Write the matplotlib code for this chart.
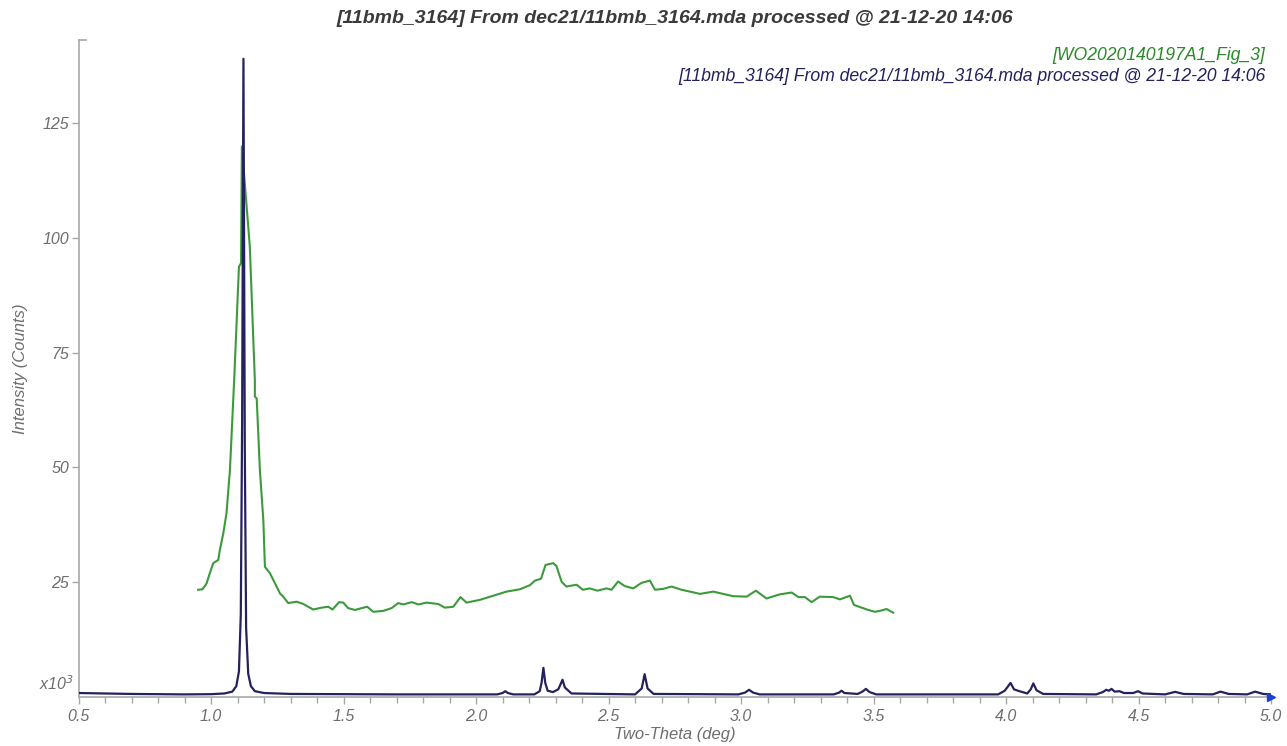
import numpy as np
import matplotlib
matplotlib.use("Agg")
import matplotlib.pyplot as plt
from matplotlib.ticker import MultipleLocator

# ─── Data ────────────────────────────────────────────────────────────
TITLE = "[11bmb_3164] From dec21/11bmb_3164.mda processed @ 21-12-20 14:06"
GREEN_NAME = "[WO2020140197A1_Fig_3]"
BLUE_NAME = TITLE

# digitized pattern (x: two-theta deg, y: counts x1000)
green_x = [0.951, 0.967, 0.975, 0.983, 0.995, 1.008, 1.027, 1.033, 1.046, 1.058,
           1.071, 1.087, 1.105, 1.113, 1.116, 1.146, 1.165, 1.165, 1.172, 1.184,
           1.197, 1.203, 1.222, 1.241, 1.260, 1.272, 1.291, 1.323, 1.348, 1.385,
           1.417, 1.442, 1.458, 1.483, 1.499, 1.517, 1.543, 1.568, 1.589, 1.612,
           1.650, 1.681, 1.706, 1.725, 1.757, 1.782, 1.813, 1.857, 1.882, 1.914,
           1.941, 1.964, 2.014, 2.065, 2.115, 2.165, 2.203, 2.222, 2.245, 2.262,
           2.291, 2.303, 2.323, 2.341, 2.379, 2.403, 2.429, 2.458, 2.492, 2.511,
           2.536, 2.561, 2.593, 2.624, 2.656, 2.675, 2.706, 2.738, 2.775, 2.807,
           2.845, 2.895, 2.932, 2.970, 3.021, 3.056, 3.096, 3.146, 3.191, 3.216,
           3.241, 3.266, 3.297, 3.348, 3.373, 3.411, 3.426, 3.455, 3.480, 3.505,
           3.524, 3.549, 3.574]
green_y = [23.3, 23.4, 24.0, 24.7, 26.9, 29.1, 29.8, 32.0, 35.6, 40.0,
           49.4, 69.0, 93.7, 94.5, 119.9, 98.1, 69.0, 65.4, 65.0, 49.4,
           38.5, 28.3, 26.9, 24.7, 22.5, 21.8, 20.4, 20.7, 20.2, 19.0,
           19.4, 19.6, 19.0, 20.6, 20.5, 19.3, 18.9, 19.3, 19.6, 18.5,
           18.7, 19.3, 20.4, 20.1, 20.6, 20.1, 20.5, 20.2, 19.4, 19.6,
           21.7, 20.5, 21.1, 22.0, 22.9, 23.4, 24.3, 25.3, 25.7, 28.7,
           29.1, 28.5, 25.0, 24.0, 24.4, 23.3, 23.6, 23.1, 23.6, 23.3,
           25.1, 24.1, 23.6, 24.8, 25.3, 23.3, 23.5, 24.0, 23.3, 22.9,
           22.4, 22.9, 22.4, 21.9, 21.8, 23.1, 21.4, 22.3, 22.7, 21.7,
           21.7, 20.6, 21.8, 21.7, 21.2, 22.0, 20.0, 19.4, 18.9, 18.5,
           18.7, 19.1, 18.3]

blue_x = [0.50, 0.60, 0.70, 0.80, 0.90, 1.00, 1.05, 1.08, 1.095, 1.105,
          1.112, 1.117, 1.122, 1.127, 1.132, 1.140, 1.150, 1.165, 1.20, 1.30,
          1.50, 1.70, 1.90, 2.08, 2.10, 2.11, 2.12, 2.14, 2.22, 2.24,
          2.247, 2.254, 2.261, 2.27, 2.29, 2.31, 2.318, 2.326, 2.335, 2.36,
          2.60, 2.625, 2.636, 2.647, 2.67, 2.99, 3.015, 3.03, 3.045, 3.07,
          3.35, 3.37, 3.379, 3.39, 3.44, 3.458, 3.471, 3.485, 3.51, 3.97,
          3.995, 4.017, 4.03, 4.05, 4.08, 4.093, 4.103, 4.115, 4.14, 4.34,
          4.365, 4.378, 4.388, 4.398, 4.41, 4.428, 4.445, 4.48, 4.498, 4.515,
          4.60, 4.638, 4.67, 4.78, 4.809, 4.84, 4.91, 4.94, 4.97, 5.00]
blue_y = [0.8, 0.7, 0.6, 0.55, 0.5, 0.55, 0.7, 1.1, 2.3, 5.5,
          18.0, 60.0, 139.0, 55.0, 15.0, 5.0, 2.3, 1.2, 0.8, 0.6,
          0.55, 0.5, 0.5, 0.5, 0.8, 1.2, 0.8, 0.5, 0.5, 1.2,
          3.0, 6.3, 3.0, 1.3, 1.0, 1.6, 2.6, 3.7, 2.0, 0.7,
          0.5, 1.8, 4.9, 1.8, 0.6, 0.5, 0.9, 1.5, 0.9, 0.5,
          0.5, 0.9, 1.3, 0.8, 0.6, 1.1, 1.7, 1.0, 0.5, 0.5,
          1.3, 3.0, 1.6, 1.2, 0.7, 1.6, 2.9, 1.4, 0.6, 0.5,
          1.0, 1.5, 1.3, 1.7, 1.1, 1.2, 0.8, 0.8, 1.2, 0.7,
          0.5, 1.05, 0.6, 0.5, 1.1, 0.6, 0.5, 1.1, 0.6, 0.5]

X_MIN, X_MAX = 0.5, 5.0
Y_MAX = 143.1

# ─── Style ───────────────────────────────────────────────────────────
plt.rcParams.update({
    "font.family": ["Liberation Sans", "DejaVu Sans"],
    "font.style": "italic",
})
GREEN = "#3c9a3c"
NAVY = "#24225e"
AXIS_GRAY = "#a8a8a8"
TEXT_GRAY = "#6e6e6e"

fig = plt.figure(figsize=(12.87, 7.46), dpi=100)
ax = fig.add_axes([0.0611, 0.0661, 0.9265, 0.8803])

ax.plot(green_x, green_y, color=GREEN, lw=1.5, zorder=2)
ax.plot(blue_x, blue_y, color=NAVY, lw=1.6, zorder=3)

ax.set_xlim(X_MIN, X_MAX)
ax.set_ylim(0, Y_MAX)

for s in ["top", "right"]:
    ax.spines[s].set_visible(False)
for s in ["left", "bottom"]:
    ax.spines[s].set_color(AXIS_GRAY)
    ax.spines[s].set_linewidth(1.2)

ax.xaxis.set_major_locator(MultipleLocator(0.5))
ax.xaxis.set_minor_locator(MultipleLocator(0.1))
ax.set_yticks([25, 50, 75, 100, 125])
ax.yaxis.set_major_formatter(matplotlib.ticker.FormatStrFormatter("%d"))
ax.xaxis.set_major_formatter(matplotlib.ticker.FormatStrFormatter("%.1f"))
ax.tick_params(axis="both", which="major", colors=AXIS_GRAY, labelcolor=TEXT_GRAY,
               labelsize=11.5, length=5, width=1)
ax.tick_params(axis="x", which="minor", colors=AXIS_GRAY, length=4, width=1)
ax.tick_params(axis="y", pad=2)
ax.tick_params(axis="x", pad=4)

# small cap at top of y axis
ax.plot([0, 0.006], [Y_MAX, Y_MAX], transform=ax.get_yaxis_transform(),
        color=AXIS_GRAY, lw=1.2, clip_on=False)
# blue arrowhead at end of x axis
ax.plot([1.0], [0], marker=">", color="#1f3fd0", markersize=6,
        transform=ax.transAxes, clip_on=False, zorder=5)

ax.text(-0.004, 0.005, "x10$^{3}$", transform=ax.transAxes, ha="right", va="bottom",
        fontsize=11.5, color=TEXT_GRAY)

ax.set_xlabel("Two-Theta (deg)", fontsize=12, color=TEXT_GRAY, labelpad=2)
ax.set_ylabel("Intensity (Counts)", fontsize=12, color=TEXT_GRAY, labelpad=10)

fig.text(0.5245, 0.975, TITLE, ha="center", va="center", fontsize=14,
         fontweight="bold", color="#3a3a3a")
fig.text(0.983, 0.926, GREEN_NAME, ha="right", va="center", fontsize=12.7, color="#2a8a2a")
fig.text(0.983, 0.897, BLUE_NAME, ha="right", va="center", fontsize=12.7, color=NAVY)

fig.savefig("out.png", dpi=100)
